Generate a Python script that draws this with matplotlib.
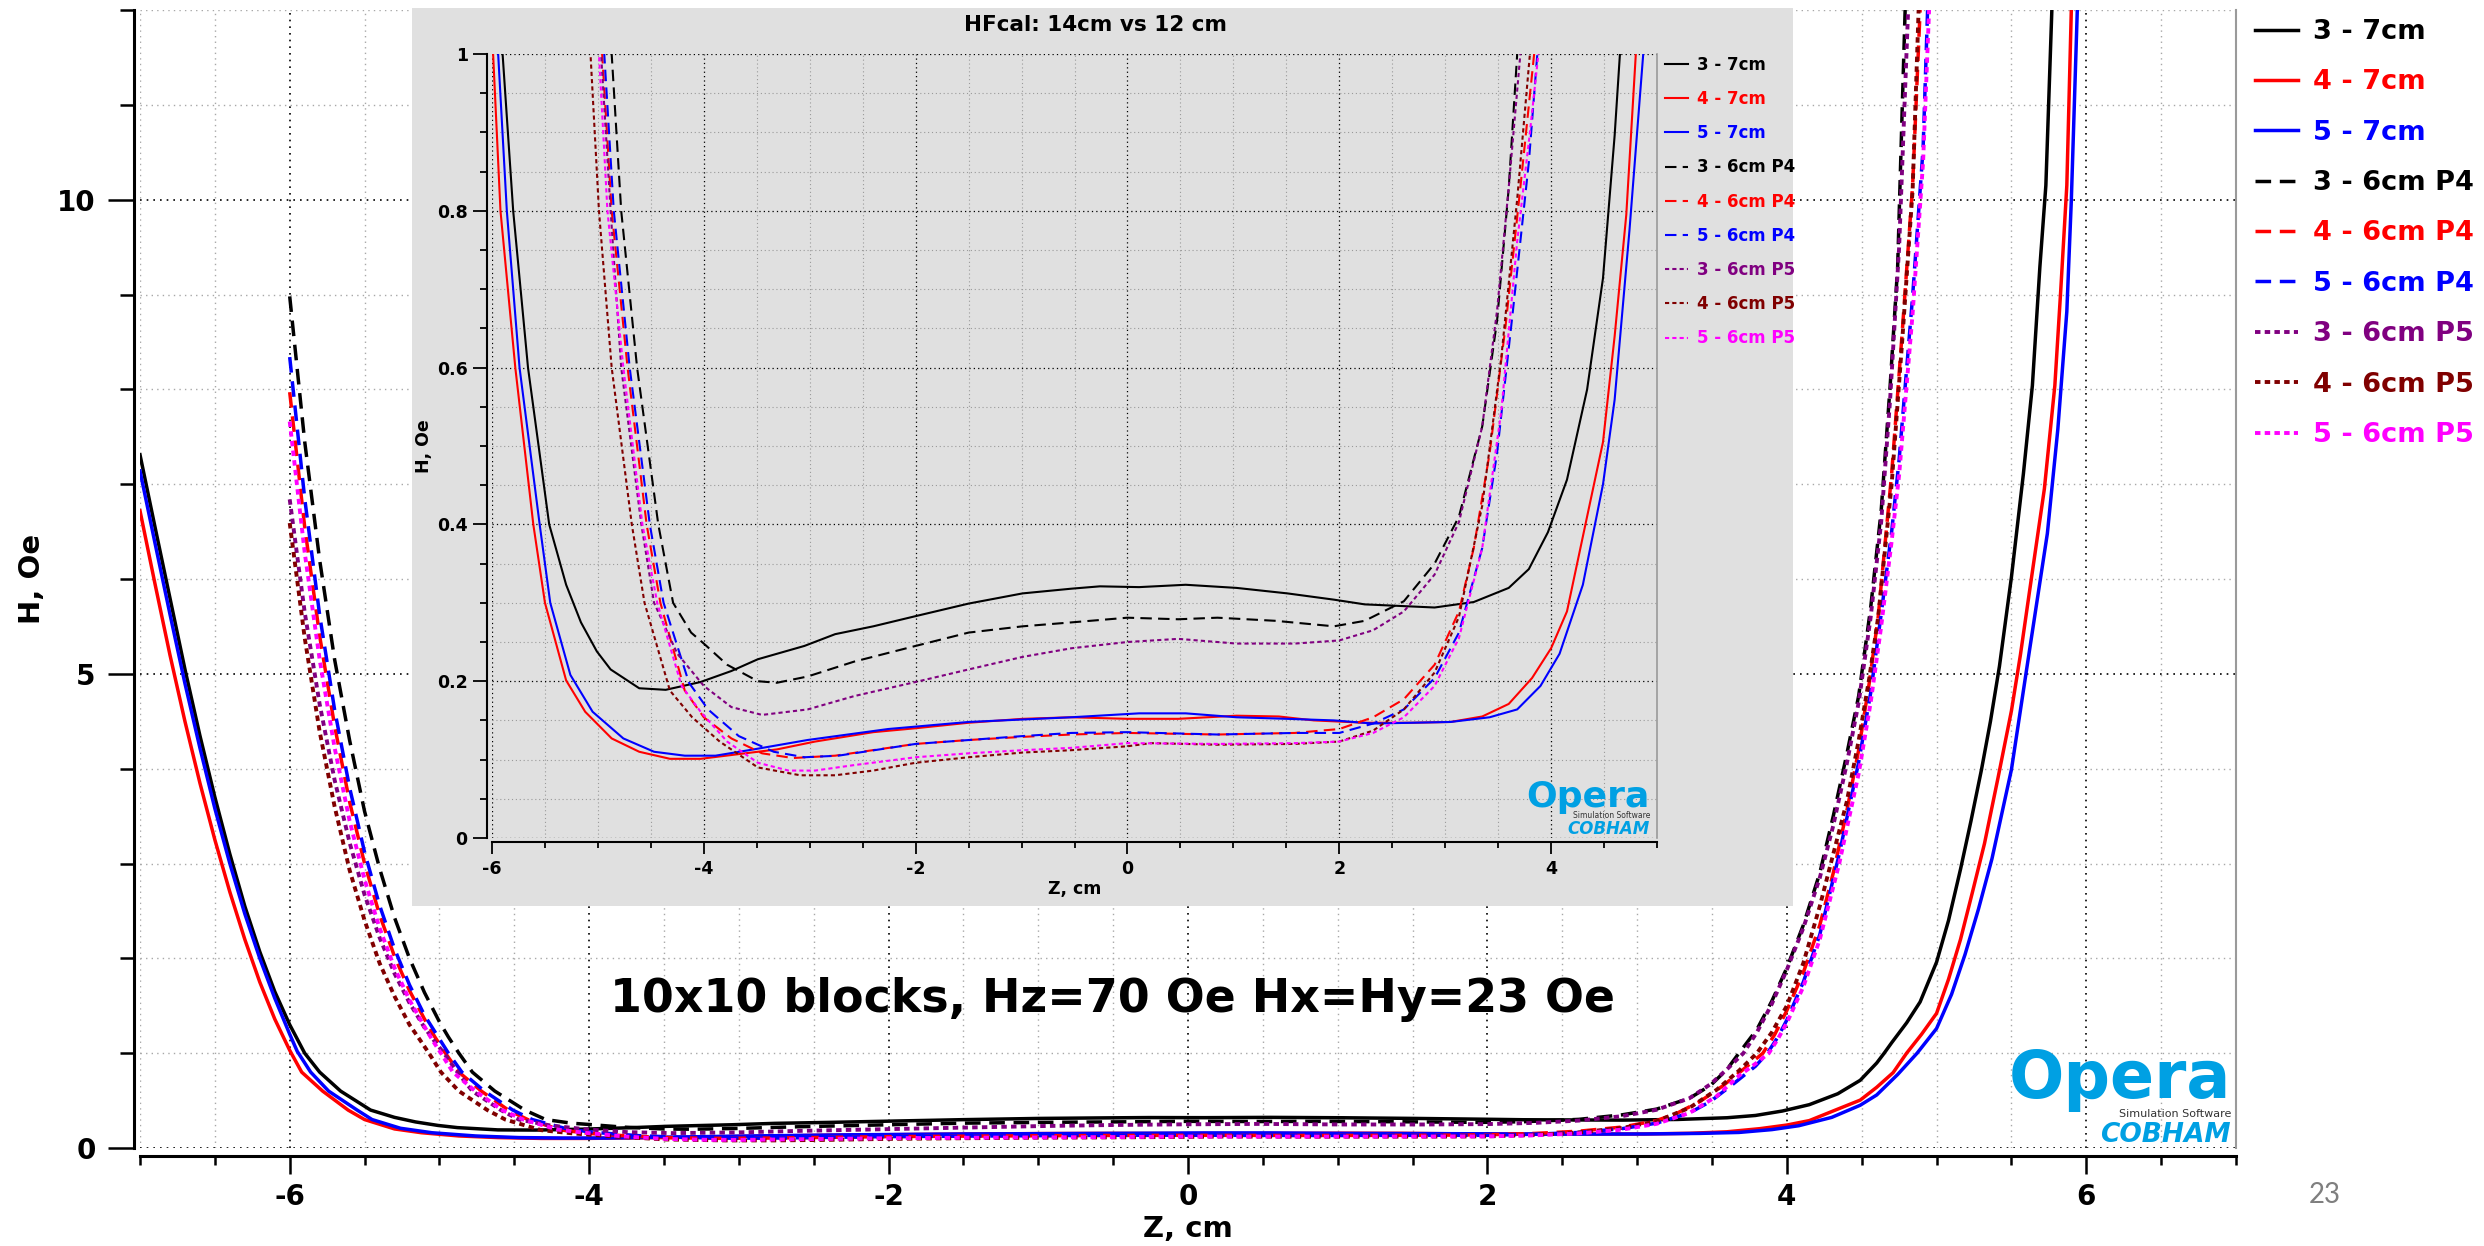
import matplotlib
matplotlib.use("Agg")
import matplotlib.pyplot as plt
from matplotlib.ticker import MultipleLocator, FixedLocator

plt.rcParams["font.family"] = ["DejaVu Sans"]
plt.rcParams["font.weight"] = "bold"
plt.rcParams["axes.labelweight"] = "bold"
plt.rcParams["axes.unicode_minus"] = False

# ---------------- data ----------------
labels = ["3 - 7cm", "4 - 7cm", "5 - 7cm", "3 - 6cm P4", "4 - 6cm P4",
          "5 - 6cm P4", "3 - 6cm P5", "4 - 6cm P5", "5 - 6cm P5"]
colors = ["#000000", "#ff0000", "#0000ff", "#000000", "#ff0000",
          "#0000ff", "#800080", "#800000", "#ff00ff"]
kinds = ["solid", "solid", "solid", "dashed", "dashed", "dashed",
         "dotted", "dotted", "dotted"]

z_3_7 = [-7.0, -6.9, -6.8, -6.7, -6.6, -6.5, -6.4, -6.3, -6.2, -6.1, -6.0, -5.9, -5.8, -5.66, -5.46,
         -5.30, -5.16, -5.01, -4.88, -4.61, -4.36, -4.03, -3.74, -3.49, -3.05, -2.76, -2.40, -2.00,
         -1.50, -0.99, -0.53, -0.26, 0.11, 0.55, 1.03, 1.51, 1.95, 2.24, 2.90, 3.27, 3.60, 3.79, 3.97,
         4.15, 4.34, 4.49, 4.60, 4.65, 4.70, 4.80, 4.89, 5.00, 5.08, 5.16, 5.23, 5.30, 5.36, 5.42,
         5.50, 5.58, 5.64, 5.69, 5.73, 5.77]
h_3_7 = [7.31, 6.55, 5.80, 5.05, 4.35, 3.70, 3.10, 2.55, 2.07, 1.65, 1.30, 1.00, 0.80, 0.60, 0.40,
         0.323, 0.275, 0.238, 0.215, 0.191, 0.189, 0.199, 0.213, 0.228, 0.245, 0.260, 0.270, 0.283,
         0.299, 0.312, 0.318, 0.321, 0.320, 0.323, 0.319, 0.312, 0.304, 0.298, 0.294, 0.301, 0.319,
         0.343, 0.390, 0.457, 0.572, 0.714, 0.896, 1.00, 1.11, 1.32, 1.54, 1.96, 2.40, 2.94, 3.45,
         3.99, 4.50, 5.08, 6.02, 7.11, 8.04, 9.29, 10.15, 12.0]

z_4_7 = [-7.0, -6.9, -6.8, -6.7, -6.6, -6.5, -6.4, -6.3, -6.2, -6.1, -6.0, -5.92, -5.78, -5.61, -5.50,
         -5.30, -5.12, -4.87, -4.61, -4.32, -4.03, -3.67, -3.31, -2.95, -2.40, -2.00, -1.50, -0.99,
         -0.53, 0.00, 0.48, 1.03, 1.43, 1.76, 2.24, 2.68, 3.05, 3.35, 3.60, 3.82, 4.00, 4.15, 4.34,
         4.49, 4.60, 4.71, 4.80, 4.90, 5.00, 5.08, 5.16, 5.24, 5.32, 5.41, 5.50, 5.56, 5.62, 5.72,
         5.79, 5.83, 5.87, 5.90]
h_4_7 = [6.72, 5.95, 5.20, 4.50, 3.85, 3.25, 2.70, 2.20, 1.75, 1.36, 1.03, 0.80, 0.60, 0.40, 0.30,
         0.201, 0.161, 0.127, 0.110, 0.101, 0.101, 0.107, 0.113, 0.123, 0.135, 0.140, 0.147, 0.152,
         0.154, 0.152, 0.152, 0.156, 0.155, 0.150, 0.147, 0.147, 0.148, 0.155, 0.171, 0.204, 0.242,
         0.289, 0.410, 0.505, 0.640, 0.795, 1.00, 1.20, 1.42, 1.78, 2.20, 2.70, 3.21, 3.90, 4.61,
         5.20, 5.86, 6.95, 8.04, 9.06, 10.15, 12.0]

z_5_7 = [-7.0, -6.9, -6.8, -6.7, -6.6, -6.5, -6.4, -6.3, -6.2, -6.1, -6.0, -5.95, -5.86, -5.74, -5.55,
         -5.45, -5.26, -5.05, -4.76, -4.47, -4.18, -3.89, -3.53, -3.02, -2.26, -1.50, -0.53, 0.11,
         0.55, 1.03, 1.51, 1.95, 2.32, 3.05, 3.42, 3.68, 3.90, 4.08, 4.30, 4.49, 4.60, 4.74, 4.87,
         5.00, 5.10, 5.19, 5.28, 5.37, 5.50, 5.62, 5.74, 5.81, 5.87, 5.90, 5.94]
h_5_7 = [7.14, 6.38, 5.63, 4.90, 4.22, 3.58, 3.00, 2.47, 2.00, 1.58, 1.20, 1.02, 0.80, 0.60, 0.40,
         0.30, 0.208, 0.161, 0.127, 0.110, 0.105, 0.105, 0.113, 0.125, 0.139, 0.148, 0.154, 0.159,
         0.159, 0.154, 0.152, 0.150, 0.146, 0.148, 0.154, 0.164, 0.194, 0.235, 0.323, 0.451, 0.559,
         0.775, 1.00, 1.26, 1.62, 2.04, 2.52, 3.05, 3.99, 5.24, 6.48, 7.58, 8.82, 9.99, 12.0]

z_3_6_p4 = [-6.0, -5.9, -5.8, -5.7, -5.6, -5.5, -5.4, -5.3, -5.2, -5.1, -5.0, -4.94, -4.87, -4.78,
            -4.63, -4.43, -4.29, -4.12, -4.00, -3.78, -3.49, -3.31, -3.02, -2.58, -2.00, -1.50, -0.99,
            -0.53, 0.00, 0.48, 0.85, 1.40, 1.95, 2.24, 2.61, 2.90, 3.13, 3.35, 3.49, 3.60, 3.68, 3.80,
            3.90, 4.00, 4.11, 4.22, 4.31, 4.40, 4.48, 4.56, 4.63, 4.69, 4.74, 4.77, 4.79]
h_3_6_p4 = [8.98, 7.45, 6.20, 5.15, 4.30, 3.55, 2.95, 2.43, 2.00, 1.64, 1.33, 1.17, 1.00, 0.80, 0.60,
            0.40, 0.30, 0.262, 0.248, 0.221, 0.200, 0.198, 0.206, 0.225, 0.245, 0.262, 0.270, 0.275,
            0.281, 0.279, 0.281, 0.277, 0.270, 0.277, 0.302, 0.350, 0.410, 0.525, 0.660, 0.829, 1.00,
            1.25, 1.55, 1.90, 2.35, 2.90, 3.50, 4.15, 4.77, 5.70, 6.72, 8.04, 9.29, 10.93, 12.0]

z_4_6_p4 = [-6.0, -5.9, -5.8, -5.7, -5.6, -5.5, -5.4, -5.3, -5.2, -5.1, -5.03, -4.96, -4.87, -4.72,
            -4.54, -4.41, -4.18, -4.00, -3.74, -3.45, -3.16, -2.76, -2.00, -1.50, -0.99, -0.53, 0.00,
            0.85, 1.58, 2.00, 2.32, 2.61, 2.90, 3.13, 3.27, 3.42, 3.57, 3.71, 3.84, 3.92, 4.00, 4.11,
            4.22, 4.31, 4.40, 4.48, 4.55, 4.61, 4.70, 4.77, 4.84, 4.89]
h_4_6_p4 = [7.97, 6.55, 5.40, 4.45, 3.65, 3.00, 2.46, 2.02, 1.66, 1.36, 1.17, 1.00, 0.80, 0.60, 0.40,
            0.30, 0.188, 0.154, 0.127, 0.108, 0.102, 0.105, 0.120, 0.125, 0.129, 0.132, 0.134, 0.132,
            0.134, 0.139, 0.154, 0.177, 0.221, 0.289, 0.370, 0.491, 0.653, 0.830, 1.00, 1.20, 1.45,
            1.85, 2.35, 2.90, 3.55, 4.20, 4.90, 5.60, 7.11, 8.59, 10.15, 12.0]

z_5_6_p4 = [-6.0, -5.9, -5.8, -5.7, -5.6, -5.5, -5.4, -5.3, -5.2, -5.1, -5.0, -4.94, -4.85, -4.70,
            -4.51, -4.38, -4.14, -3.96, -3.67, -3.34, -3.05, -2.73, -2.00, -0.99, -0.53, 0.00, 0.85,
            1.58, 2.00, 2.32, 2.61, 2.90, 3.13, 3.35, 3.49, 3.64, 3.79, 3.87, 3.94, 4.00, 4.11, 4.22,
            4.35, 4.48, 4.56, 4.63, 4.70, 4.75, 4.84, 4.91, 4.94]
h_5_6_p4 = [8.34, 6.85, 5.62, 4.62, 3.80, 3.12, 2.56, 2.10, 1.72, 1.40, 1.15, 1.00, 0.80, 0.60, 0.40,
            0.30, 0.198, 0.164, 0.130, 0.110, 0.103, 0.105, 0.120, 0.130, 0.134, 0.135, 0.132, 0.134,
            0.134, 0.146, 0.164, 0.204, 0.262, 0.370, 0.491, 0.673, 0.862, 1.00, 1.17, 1.35, 1.75,
            2.25, 3.10, 4.07, 4.80, 5.63, 6.50, 7.26, 8.98, 10.54, 12.0]

z_3_6_p5 = [-6.0, -5.9, -5.8, -5.7, -5.6, -5.5, -5.4, -5.3, -5.2, -5.1, -5.03, -4.97, -4.88, -4.78,
            -4.59, -4.47, -4.25, -4.00, -3.74, -3.45, -3.02, -2.58, -2.00, -1.50, -0.99, -0.53, 0.00,
            0.48, 1.03, 1.58, 2.00, 2.32, 2.61, 2.90, 3.13, 3.35, 3.49, 3.60, 3.71, 3.80, 3.90, 4.00,
            4.11, 4.22, 4.31, 4.40, 4.48, 4.56, 4.63, 4.69, 4.75, 4.81]
h_3_6_p5 = [6.84, 5.65, 4.68, 3.88, 3.22, 2.67, 2.22, 1.84, 1.53, 1.27, 1.12, 1.00, 0.80, 0.60, 0.40,
            0.30, 0.235, 0.194, 0.167, 0.157, 0.164, 0.181, 0.199, 0.215, 0.231, 0.242, 0.250, 0.254,
            0.248, 0.248, 0.252, 0.265, 0.289, 0.336, 0.403, 0.525, 0.673, 0.830, 1.00, 1.22, 1.52,
            1.88, 2.32, 2.85, 3.40, 4.05, 4.70, 5.60, 6.60, 7.90, 9.50, 12.0]

z_4_6_p5 = [-6.0, -5.9, -5.8, -5.7, -5.6, -5.5, -5.4, -5.3, -5.2, -5.13, -5.07, -4.99, -4.87, -4.68,
            -4.56, -4.32, -4.11, -3.85, -3.49, -3.09, -2.76, -2.40, -2.00, -1.50, -0.99, -0.53, 0.00,
            0.22, 0.85, 1.58, 2.00, 2.32, 2.61, 2.90, 3.13, 3.35, 3.53, 3.68, 3.80, 3.90, 4.00, 4.11,
            4.22, 4.31, 4.40, 4.48, 4.55, 4.61, 4.70, 4.77, 4.84, 4.88]
h_4_6_p5 = [6.59, 5.38, 4.39, 3.60, 2.93, 2.40, 1.95, 1.60, 1.30, 1.14, 1.00, 0.80, 0.60, 0.40, 0.30,
            0.188, 0.154, 0.123, 0.090, 0.080, 0.080, 0.086, 0.096, 0.103, 0.109, 0.112, 0.117, 0.121,
            0.119, 0.120, 0.123, 0.137, 0.164, 0.211, 0.282, 0.424, 0.613, 0.815, 1.00, 1.22, 1.50,
            1.95, 2.55, 3.10, 3.65, 4.30, 4.95, 5.60, 7.00, 8.50, 10.10, 12.0]

z_5_6_p5 = [-6.0, -5.9, -5.8, -5.7, -5.6, -5.5, -5.4, -5.3, -5.2, -5.1, -5.04, -4.99, -4.91, -4.76,
            -4.58, -4.44, -4.21, -4.03, -3.78, -3.49, -3.20, -2.95, -2.58, -2.00, -1.50, -0.99, -0.53,
            0.00, 0.85, 1.58, 2.00, 2.32, 2.61, 2.90, 3.13, 3.35, 3.53, 3.68, 3.80, 3.88, 3.94, 4.00,
            4.11, 4.22, 4.35, 4.48, 4.56, 4.63, 4.70, 4.75, 4.84, 4.91, 4.95]
h_5_6_p5 = [7.66, 6.28, 5.15, 4.22, 3.45, 2.83, 2.32, 1.90, 1.56, 1.28, 1.12, 1.00, 0.80, 0.60, 0.40,
            0.30, 0.194, 0.161, 0.123, 0.096, 0.086, 0.086, 0.093, 0.103, 0.108, 0.112, 0.115, 0.121,
            0.120, 0.121, 0.123, 0.134, 0.154, 0.194, 0.255, 0.370, 0.545, 0.761, 0.900, 1.00, 1.15,
            1.32, 1.70, 2.20, 3.00, 3.95, 4.70, 5.50, 6.40, 7.10, 8.80, 10.40, 12.0]

series_z = [z_3_7, z_4_7, z_5_7, z_3_6_p4, z_4_6_p4, z_5_6_p4, z_3_6_p5, z_4_6_p5, z_5_6_p5]
series_h = [h_3_7, h_4_7, h_5_7, h_3_6_p4, h_4_6_p4, h_5_6_p4, h_3_6_p5, h_4_6_p5, h_5_6_p5]

main_yticks = [0, 5, 10]
inset_yticks = [0, 0.2, 0.4, 0.6, 0.8, 1.0]
inset_ytick_labels = ["0", "0.2", "0.4", "0.6", "0.8", "1"]

main_text = "10x10 blocks, Hz=70 Oe Hx=Hy=23 Oe"
inset_title = "HFcal: 14cm vs 12 cm"
page_number = "23"

# ---------------- layout ----------------
W, H = 2484, 1246
fig = plt.figure(figsize=(W / 100, H / 100), dpi=100)
fig.patch.set_facecolor("white")


def fx(px):
    return px / W


def fy(py):
    return 1 - py / H


def style_for(kind, main):
    if kind == "solid":
        return "-"
    if kind == "dashed":
        return (0, (4.5, 2.5)) if main else (0, (5.5, 3.0))
    return (0, (1.4, 1.1)) if main else (0, (2.0, 1.5))


# main axes
ax = fig.add_axes([fx(140), fy(1148), fx(2236 - 140), (1148 - 10) / H])
ax.set_xlim(-7, 7)
ax.set_ylim(0, 12)
ax.xaxis.set_major_locator(MultipleLocator(2))
ax.xaxis.set_minor_locator(MultipleLocator(0.5))
ax.yaxis.set_major_locator(FixedLocator(main_yticks))
ax.yaxis.set_minor_locator(MultipleLocator(1))
ax.grid(which="major", color="black", linestyle=(0, (1, 3)), linewidth=1.2)
ax.grid(which="minor", color="#a8a8a8", linestyle=(0, (1, 3)), linewidth=1.0)
ax.set_axisbelow(True)
ax.spines["top"].set_visible(False)
ax.spines["right"].set_color("#9a9a9a")
ax.spines["right"].set_linewidth(1.5)
ax.spines["left"].set_position(("outward", 4.5))
ax.spines["bottom"].set_position(("outward", 6))
ax.spines["left"].set_linewidth(2.2)
ax.spines["bottom"].set_linewidth(2.2)
ax.tick_params(axis="y", which="major", length=18.5, width=1.8, pad=9, labelsize=20)
ax.tick_params(axis="y", which="minor", length=10, width=1.8)
ax.tick_params(axis="x", which="major", length=13, width=1.8, pad=6, labelsize=20)
ax.tick_params(axis="x", which="minor", length=6.5, width=1.8)
ax.set_xlabel("Z, cm", fontsize=21, labelpad=3)
ax.set_ylabel("H, Oe", fontsize=21, labelpad=8)

main_lines = []
for z, h, c, k in zip(series_z, series_h, colors, kinds):
    lw = 2.8 if k == "dotted" else 2.5
    ln, = ax.plot(z, h, color=c, linestyle=style_for(k, True), linewidth=lw)
    main_lines.append(ln)

leg = fig.legend(main_lines, labels, loc="upper left", bbox_to_anchor=(fx(2255), fy(19)),
                 frameon=False, fontsize=19.5, handlelength=1.6, handletextpad=0.55,
                 labelspacing=0.9, borderpad=0, borderaxespad=0)
for t, c in zip(leg.get_texts(), colors):
    t.set_color(c)

# gray panel behind inset
bg = fig.add_axes([fx(412), fy(906), fx(1793 - 412), (906 - 8) / H])
bg.set_facecolor("#e0e0e0")
bg.set_xticks([])
bg.set_yticks([])
for s in bg.spines.values():
    s.set_visible(False)

# inset axes
ins = fig.add_axes([fx(492), fy(838), fx(1657 - 492), (838 - 54) / H])
ins.set_facecolor("#e0e0e0")
ins.set_xlim(-6, 5)
ins.set_ylim(0, 1)
ins.xaxis.set_major_locator(MultipleLocator(2))
ins.xaxis.set_minor_locator(MultipleLocator(0.5))
ins.set_yticks(inset_yticks, labels=inset_ytick_labels)
ins.yaxis.set_minor_locator(MultipleLocator(0.05))
ins.grid(which="major", color="black", linestyle=(0, (1, 2.5)), linewidth=0.9)
ins.grid(which="minor", color="#9a9a9a", linestyle=(0, (1, 2.5)), linewidth=0.8)
ins.set_axisbelow(True)
ins.spines["top"].set_visible(False)
ins.spines["right"].set_color("#9a9a9a")
ins.spines["right"].set_linewidth(1.2)
ins.spines["left"].set_position(("outward", 3.5))
ins.spines["bottom"].set_position(("outward", 3))
ins.spines["left"].set_linewidth(1.5)
ins.spines["bottom"].set_linewidth(1.5)
ins.tick_params(axis="y", which="major", length=10, width=1.3, pad=4, labelsize=12.5)
ins.tick_params(axis="y", which="minor", length=5, width=1.3)
ins.tick_params(axis="x", which="major", length=8.5, width=1.3, pad=4, labelsize=12.5)
ins.tick_params(axis="x", which="minor", length=4.5, width=1.3)
ins.set_xlabel("Z, cm", fontsize=12.5, labelpad=2)
ins.set_ylabel("H, Oe", fontsize=12.5, labelpad=3)

ins_lines = []
for z, h, c, k in zip(series_z, series_h, colors, kinds):
    ln, = ins.plot(z, h, color=c, linestyle=style_for(k, False), linewidth=1.5)
    ins_lines.append(ln)

leg2 = ins.legend(ins_lines, labels, loc="upper left", bbox_to_anchor=(fx(1665), fy(56)),
                  bbox_transform=fig.transFigure, frameon=False, fontsize=12,
                  handlelength=1.4, handletextpad=0.5, labelspacing=0.97,
                  borderpad=0, borderaxespad=0)
for t, c in zip(leg2.get_texts(), colors):
    t.set_color(c)

fig.text(fx(1095), fy(25), inset_title, ha="center", va="center", fontsize=15.5)

# inset logo
opera_blue = "#00a0e3"
fig.text(fx(1650), fy(807), "Opera", ha="right", va="baseline", fontsize=26, color=opera_blue)
fig.text(fx(1650), fy(818), "Simulation Software", ha="right", va="baseline", fontsize=5.5,
         color="#333333", weight="normal")
fig.text(fx(1650), fy(834), "COBHAM", ha="right", va="baseline", fontsize=12,
         color=opera_blue, style="italic")

# main annotation
fig.text(fx(1113), fy(999), main_text, ha="center", va="center", fontsize=33, color="black")

# main logo
fig.text(fx(2231), fy(1098), "Opera", ha="right", va="baseline", fontsize=47, color=opera_blue)
fig.text(fx(2231), fy(1117), "Simulation Software", ha="right", va="baseline", fontsize=8,
         color="#333333", weight="normal")
fig.text(fx(2231), fy(1142), "COBHAM", ha="right", va="baseline", fontsize=19,
         color=opera_blue, style="italic")

# page number
fig.text(fx(2325), fy(1195), page_number, ha="center", va="center", fontsize=20,
         color="#7f7f7f", family=["Lato", "DejaVu Sans"], weight="normal")

fig.savefig("out.png", dpi=100)
